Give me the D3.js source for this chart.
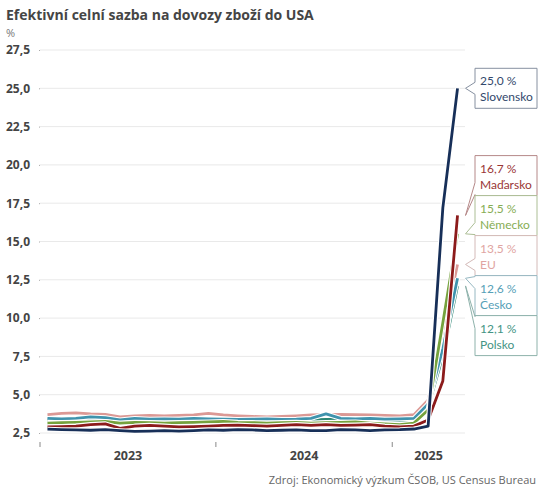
<!DOCTYPE html>
<html lang="cs">
<head>
    <meta charset="UTF-8">
    <script src="https://d3js.org/d3.v7.min.js"></script>
    <style>
        body { margin: 0; background: #fff; }
        text { font-family: "Open Sans", "Noto Sans", sans-serif; }
    </style>
</head>
<body>
    <svg id="chart" width="549" height="490"></svg>
    <script>
        // Měsíce (leden 2023 – květen 2025)
        const months = [
            "2023-01", "2023-02", "2023-03", "2023-04", "2023-05", "2023-06",
            "2023-07", "2023-08", "2023-09", "2023-10", "2023-11", "2023-12",
            "2024-01", "2024-02", "2024-03", "2024-04", "2024-05", "2024-06",
            "2024-07", "2024-08", "2024-09", "2024-10", "2024-11", "2024-12",
            "2025-01", "2025-02", "2025-03", "2025-04", "2025-05"
        ];

        // Efektivní celní sazba v %
        const eu = [3.70, 3.78, 3.82, 3.75, 3.72, 3.55, 3.62, 3.65, 3.62, 3.65, 3.68, 3.78,
                    3.68, 3.62, 3.58, 3.55, 3.58, 3.62, 3.68, 3.70, 3.72, 3.70, 3.68, 3.65,
                    3.62, 3.70, 4.65, 9.0, 13.5];
        const polsko = [3.35, 3.40, 3.38, 3.45, 3.40, 3.30, 3.35, 3.38, 3.35, 3.30, 3.32, 3.38,
                        3.35, 3.35, 3.38, 3.32, 3.35, 3.30, 3.35, 3.38, 3.40, 3.35, 3.38, 3.35,
                        3.30, 3.35, 4.2, 7.5, 12.1];
        const cesko = [3.45, 3.42, 3.45, 3.55, 3.50, 3.35, 3.45, 3.40, 3.42, 3.40, 3.45, 3.42,
                       3.40, 3.38, 3.40, 3.42, 3.38, 3.40, 3.45, 3.75, 3.45, 3.42, 3.45, 3.40,
                       3.42, 3.45, 4.4, 8.0, 12.6];
        const nemecko = [3.15, 3.18, 3.20, 3.22, 3.25, 3.15, 3.20, 3.18, 3.15, 3.18, 3.20, 3.22,
                         3.25, 3.20, 3.18, 3.15, 3.18, 3.20, 3.15, 3.18, 3.20, 3.22, 3.15, 3.10,
                         3.05, 3.15, 4.0, 9.7, 15.5];
        const madarsko = [2.90, 2.92, 2.95, 3.05, 3.10, 2.80, 2.95, 3.00, 2.95, 2.90, 2.92, 2.95,
                          3.00, 3.02, 2.98, 2.95, 3.00, 3.05, 3.00, 3.05, 3.00, 3.02, 3.05, 2.95,
                          2.90, 2.95, 3.35, 5.9, 16.7];
        const slovensko = [2.75, 2.72, 2.70, 2.68, 2.72, 2.65, 2.60, 2.62, 2.65, 2.62, 2.66, 2.70,
                           2.68, 2.72, 2.70, 2.66, 2.68, 2.70, 2.65, 2.66, 2.72, 2.70, 2.66, 2.70,
                           2.72, 2.76, 2.95, 17.2, 25.0];

        const seriesNames = ["EU", "Polsko", "Česko", "Německo", "Maďarsko", "Slovensko"];
        const seriesValues = [eu, polsko, cesko, nemecko, madarsko, slovensko];
        const seriesColors = ["#db9995", "#2b8573", "#3f93ad", "#75a23d", "#8c1b1b", "#172f58"];

        const yTicks = [2.5, 5, 7.5, 10, 12.5, 15, 17.5, 20, 22.5, 25, 27.5];
        const yearLabels = ["2023", "2024", "2025"];

        const width = 549, height = 490;
        const plot = { left: 40, right: 465, top: 50, bottom: 433 };

        const svg = d3.select("#chart")
            .attr("width", width)
            .attr("height", height);

        const parseMonth = d3.timeParse("%Y-%m");
        const x = d3.scaleTime()
            .domain([new Date(2023, 0, 1), new Date(2025, 5, 1)])
            .range([plot.left, plot.right]);
        const y = d3.scaleLinear()
            .domain([2.5, 27.5])
            .range([plot.bottom, plot.top]);

        // střed měsíce
        const xMid = m => {
            const d = parseMonth(m);
            return (x(d) + x(d3.timeMonth.offset(d, 1))) / 2;
        };

        const fmt = d3.formatLocale({ decimal: ",", thousands: " ", grouping: [3], currency: ["", " Kč"] });
        const f1 = fmt.format(".1f");

        // Titulek
        svg.append("text")
            .attr("x", 6)
            .attr("y", 20)
            .style("font-size", "14px")
            .style("font-weight", "bold")
            .attr("fill", "#454545")
            .text("Efektivní celní sazba na dovozy zboží do USA");

        svg.append("text")
            .attr("x", 6)
            .attr("y", 37)
            .style("font-size", "11px")
            .attr("fill", "#777")
            .text("%");

        // Osa Y + mřížka
        const yAxis = svg.append("g")
            .attr("transform", `translate(${plot.left},0)`)
            .call(d3.axisLeft(y).tickValues(yTicks).tickFormat(f1)
                .tickSize(5).tickPadding(5));
        yAxis.select(".domain").remove();
        yAxis.selectAll(".tick line").attr("stroke", "#aaa").attr("x2", -1);
        yAxis.selectAll(".tick text")
            .attr("x", -10)
            .style("font-family", "'Open Sans', sans-serif")
            .style("font-size", "12px")
            .style("font-weight", "bold")
            .attr("fill", "#444");

        svg.append("g")
            .selectAll("line")
            .data(yTicks)
            .enter().append("line")
            .attr("x1", plot.left)
            .attr("x2", plot.right)
            .attr("y1", d => y(d))
            .attr("y2", d => y(d))
            .attr("stroke", "#e9e9e9")
            .attr("stroke-width", 1);

        // Osa X – roky
        const yearStarts = yearLabels.map(s => new Date(+s, 0, 1));
        svg.append("g")
            .selectAll("line")
            .data(yearStarts)
            .enter().append("line")
            .attr("x1", d => x(d))
            .attr("x2", d => x(d))
            .attr("y1", 442)
            .attr("y2", 447)
            .attr("stroke", "#888");

        svg.append("g")
            .selectAll("text")
            .data(yearStarts)
            .enter().append("text")
            .attr("x", d => {
                const end = Math.min(x(d3.timeYear.offset(d, 1)), plot.right);
                return (x(d) + end) / 2;
            })
            .attr("y", 460)
            .attr("text-anchor", "middle")
            .style("font-size", "12.5px")
            .style("font-weight", "bold")
            .attr("fill", "#444")
            .text(d => d.getFullYear());

        // Linky
        const line = d3.line()
            .x((d, i) => xMid(months[i]))
            .y(d => y(d));

        seriesValues.forEach((vals, k) => {
            svg.append("path")
                .datum(vals)
                .attr("d", line)
                .attr("fill", "none")
                .attr("stroke", "#fff")
                .attr("stroke-width", 5)
                .attr("stroke-linejoin", "round");
            svg.append("path")
                .datum(vals)
                .attr("d", line)
                .attr("fill", "none")
                .attr("stroke", seriesColors[k])
                .attr("stroke-width", 2.8)
                .attr("stroke-linejoin", "round");
        });

        // Popisky na konci linek (rozmístění bez překryvu)
        const boxH = 40, boxW = 62, boxX = 475;
        const xEnd = xMid(months[months.length - 1]);
        let labels = seriesNames.map((name, k) => ({
            name,
            value: seriesValues[k][seriesValues[k].length - 1],
            color: seriesColors[k],
            target: y(seriesValues[k][seriesValues[k].length - 1])
        })).sort((a, b) => a.target - b.target);

        let groups = labels.map(l => ({ items: [l], center: l.target }));
        let merged = true;
        while (merged) {
            merged = false;
            for (let i = 0; i < groups.length - 1; i++) {
                const a = groups[i], b = groups[i + 1];
                const aBottom = a.center + a.items.length * boxH / 2;
                const bTop = b.center - b.items.length * boxH / 2;
                if (aBottom > bTop) {
                    const items = a.items.concat(b.items);
                    groups.splice(i, 2, { items, center: d3.mean(items, d => d.target) });
                    merged = true;
                    break;
                }
            }
        }
        groups.forEach(g => {
            let top = g.center - g.items.length * boxH / 2;
            g.items.forEach(l => { l.top = top; top += boxH; });
        });

        const lab = svg.append("g")
            .selectAll("g")
            .data(labels)
            .enter().append("g");

        lab.append("path")
            .attr("d", d => {
                const t = d.top, b = d.top + boxH;
                const mid = Math.max(t + 7, Math.min(b - 7, d.target));
                const tipX = xEnd + 8;
                return `M${boxX},${t}H${boxX + boxW}V${b}H${boxX}V${mid + 6}L${tipX},${d.target}L${boxX},${mid - 6}Z`;
            })
            .attr("fill", "#fff")
            .attr("stroke", d => d3.interpolateRgb(d.color, "#d0d0d0")(0.6))
            .attr("stroke-width", 1);

        lab.append("text")
            .attr("x", boxX + 5)
            .attr("y", d => d.top + 17)
            .style("font-family", "Lato, sans-serif")
            .style("font-size", "12px")
            .attr("fill", d => d3.interpolateRgb(d.color, "#ffffff")(0.12))
            .text(d => `${f1(d.value)} %`);

        lab.append("text")
            .attr("x", boxX + 5)
            .attr("y", d => d.top + 33)
            .style("font-family", "Lato, sans-serif")
            .style("font-size", "12px")
            .attr("fill", d => d3.interpolateRgb(d.color, "#ffffff")(0.12))
            .text(d => d.name);

        // Zdroj
        svg.append("text")
            .attr("x", 536)
            .attr("y", 484)
            .attr("text-anchor", "end")
            .style("font-size", "11px")
            .attr("fill", "#666")
            .text("Zdroj: Ekonomický výzkum ČSOB, US Census Bureau");
    </script>
</body>
</html>
